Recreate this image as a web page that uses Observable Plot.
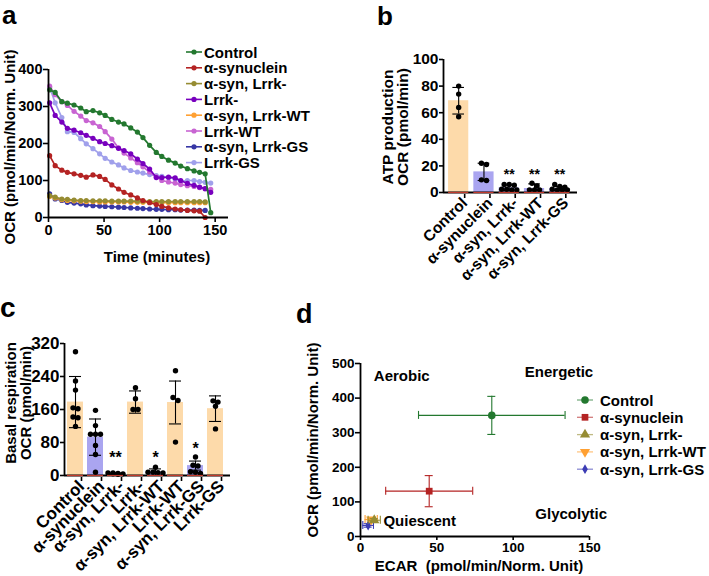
<!DOCTYPE html>
<html><head><meta charset="utf-8">
<script src="https://cdn.jsdelivr.net/npm/d3@7"></script>
<script src="https://cdn.jsdelivr.net/npm/@observablehq/plot@0.6"></script>
<style>
body{margin:0;background:#fff;}
#fig{position:relative;width:709px;height:576px;overflow:hidden;background:#fff;}
.abs{position:absolute;}
</style></head><body><div id="fig"></div>
<script>
// ---------- Panel a: OCR time course ----------
const timeMin = [1,6,12,17,23,29,34,40,46,51,57,63,68,74,80,85,91,97,102,108,114,119,125,131,136,141,146];
const seriesA = ["Control","α-synuclein","α-syn, Lrrk-","Lrrk-","α-syn, Lrrk-WT","Lrrk-WT","α-syn, Lrrk-GS","Lrrk-GS"];
const ocrControl   = [345,338,313,309,304,296,286,289,283,276,265,258,253,242,231,216,195,176,165,155,147,139,132,126,122,118,13];
const ocrAsyn      = [167,140,128,122,118,114,109,115,111,103,88,77,68,61,53,46,40,35,30,26,23,21,19,18,17,0,null];
const ocrAsynLrrkKO= [59,55,50,49,47,46,46,45,45,45,44,44,44,44,44,44,43,43,43,43,43,43,43,43,43,42,null];
const ocrLrrkKO    = [310,276,258,241,236,229,222,214,205,200,194,187,181,172,158,146,131,108,108,109,107,100,92,87,82,78,68];
const ocrAsynLrrkWT= [57,53,48,46,45,44,43,43,42,42,42,42,42,41,41,41,41,40,40,40,40,40,40,40,40,40,null];
const ocrLrrkWT    = [355,332,313,303,287,274,262,256,246,232,212,188,174,161,148,137,123,110,100,96,93,89,86,84,81,78,76];
const ocrAsynLrrkGS= [64,50,46,41,39,37,34,32,31,30,29,28,27,26,25,24,23,22,22,21,21,20,20,20,19,19,null];
const ocrLrrkGS    = [352,310,270,232,230,213,199,186,172,160,150,142,134,127,123,120,116,113,111,108,104,98,100,100,97,95,93];
const xTicksA = [0,50,100,150];
const yTicksA = [0,100,200,300,400];

// ---------- Panel b: ATP production ----------
const catsB = ["Control","α-synuclein","α-syn, Lrrk-","α-syn, Lrrk-WT","α-syn, Lrrk-GS"];
const atpMean = [69,15.5,3.5,3,3];
const atpSD   = [10,6.5,2,3.5,1.5];
const atpDots = [[80,74,64,57],[22,21,9.5,9],[6,5.5,6,2.5,2,2,2.5],[7,5,2,2,2],[4,4.5,6,2.5,2,2,2]];
const atpSig  = ["","","**","**","**"];
const atpSigY = [null,null,14.5,14.5,14.5];
const yTicksB = [0,20,40,60,80,100];

// ---------- Panel c: Basal respiration ----------
const catsC = ["Control","α-synuclein","α-syn, Lrrk-","Lrrk-","α-syn, Lrrk-WT","Lrrk-WT","α-syn, Lrrk-GS","Lrrk-GS"];
const basalMean = [178,93,4,178,8,177,24,162];
const basalSD   = [62,44,2,27,8,52,11,31];
const basalDots = [[300,229,207,164,162,142,140,119],[158,121,100,100,100,73,51,8],[6,4,6,3,5,4],[213,186,160,160],[20,8,7,8,6],[254,182,189,81],[45,25,23,9,8,5],[181,178,168,113]];
const basalSig  = ["","","**","","*","","*",""];
const basalSigY = [null,null,49,null,51,null,71,null];
const yTicksC = [0,80,160,240,320];

// ---------- Panel d: energy map ----------
const groupsD  = ["Control","α-synuclein","α-syn, Lrrk-","α-syn, Lrrk-WT","α-syn, Lrrk-GS"];
const ecarMean = [86,45,9,7,5];
const ecarErr  = [48,28.5,4,4,3.5];
const ocrMeanD = [350,131,47,49,32];
const ocrErrD  = [55,45,5,4,5];
const quadText = ["Aerobic","Energetic","Quiescent","Glycolytic"];
const quadX    = [27,130,15,138];
const quadY    = [463,476,44,64];
const xTicksD = [0,50,100,150];
const yTicksD = [0,100,200,300,400,500];

// ---------- styles ----------
const colorsA = ["#23782f","#b42323","#968c32","#7800be","#ffa032","#c864d2","#3737a5","#a0a0eb"];
const colorsD = ["#23782f","#b42323","#968c32","#ffa032","#3c3cb4"];
const peach = "#fddaaa", lav = "#aaa5f0";
const FONT = '"Liberation Sans", Arial, Helvetica, sans-serif';
const styleFor = size => ({fontFamily: FONT, fontSize: size + "px", fontWeight: "bold", color: "#000", background: "transparent", maxWidth: "none", overflow: "visible"});

const triDown = {draw(ctx, size){ const s3 = Math.sqrt(3); const y = -Math.sqrt(size/(s3*3)); ctx.moveTo(0,-y*2); ctx.lineTo(-s3*y, y); ctx.lineTo(s3*y, y); ctx.closePath(); }};
const symbolsD = ["circle","square","triangle",triDown,"diamond"];
const d3SymbolsD = [d3.symbolCircle, d3.symbolSquare, d3.symbolTriangle, triDown, d3.symbolDiamond];

const fig = document.getElementById("fig");
function place(node, left, top){ const div = document.createElement("div"); div.className = "abs"; div.style.left = left+"px"; div.style.top = top+"px"; div.appendChild(node); fig.appendChild(div); }

// simple deterministic swarm: clusters of close values spread horizontally
function swarm(values, center, thr, step){
  const sorted = values.map(v => v).sort((a,b) => b-a);
  const clusters = [];
  for (const v of sorted){ const c = clusters[clusters.length-1]; if (c && Math.abs(c[0]-v) < thr) c.push(v); else clusters.push([v]); }
  const out = [];
  for (const c of clusters){
    for (let s = 0; s < c.length; s += 4){
      const chunk = c.slice(s, s+4);
      chunk.forEach((v,j) => out.push({x: center + (j-(chunk.length-1)/2)*step, y: v}));
    }
  }
  return out;
}

// ---------- Panel a plot ----------
{
  const marks = [];
  for (let s = seriesA.length-1; s >= 0; s--){
    const vals = [ocrControl,ocrAsyn,ocrAsynLrrkKO,ocrLrrkKO,ocrAsynLrrkWT,ocrLrrkWT,ocrAsynLrrkGS,ocrLrrkGS][s];
    const rows = timeMin.map((t,k) => ({t, v: vals[k]})).filter(d => d.v != null);
    marks.push(Plot.line(rows, {x: "t", y: "v", stroke: colorsA[s], strokeWidth: 1.7}));
    marks.push(Plot.dot(rows, {x: "t", y: "v", fill: colorsA[s], r: 2.6}));
  }
  const p = Plot.plot({
    width: 240, height: 240, marginLeft: 48, marginRight: 12, marginTop: 29, marginBottom: 63,
    x: {domain: [0,162]}, y: {domain: [0,400]},
    style: styleFor(14.5),
    marks: [
      ...marks,
      Plot.ruleX([0], {strokeWidth: 1.8}),
      Plot.ruleY([0], {strokeWidth: 1.8}),
      Plot.axisX({ticks: xTicksA, tickSize: 5, tickPadding: 2, strokeWidth: 1.6, label: null}),
      Plot.axisY({ticks: yTicksA, tickSize: 5, tickPadding: 1, strokeWidth: 1.6, label: null})
    ]
  });
  place(p, 0, 40);
}

// ---------- bar panels ----------
function barPanel(cats, means, sds, dots, sig, sigY, yTicks, yDom, xDom, opts){
  const rows = cats.map((c,i) => ({i, c, mean: means[i], sd: sds[i], color: c.startsWith("α") ? lav : peach}));
  const pts = dots.flatMap((vals,i) => swarm(vals, i, opts.thr, opts.step));
  const sigRows = cats.map((c,i) => ({i, s: sig[i], y: sigY[i]})).filter(d => d.s);
  const cap = opts.cap;
  return Plot.plot({
    width: opts.width, height: opts.height, marginLeft: opts.ml, marginRight: opts.mr, marginTop: opts.mt, marginBottom: opts.mb,
    x: {domain: xDom}, y: {domain: yDom}, color: {type: "identity"},
    style: styleFor(opts.font),
    marks: [
      Plot.rectY(rows, {x1: d => d.i-0.4, x2: d => d.i+0.4, y1: 0, y2: "mean", fill: "color"}),
      Plot.ruleX(rows, {x: "i", y1: d => Math.max(0, d.mean-d.sd), y2: d => d.mean+d.sd, strokeWidth: 1.1}),
      Plot.ruleY(rows, {x1: d => d.i-cap, x2: d => d.i+cap, y: d => d.mean+d.sd, strokeWidth: 1.1}),
      Plot.ruleY(rows.filter(d => d.mean-d.sd > 0), {x1: d => d.i-cap, x2: d => d.i+cap, y: d => d.mean-d.sd, strokeWidth: 1.1}),
      Plot.dot(pts, {x: "x", y: "y", fill: "#000", r: 2.7}),
      Plot.ruleX([xDom[0]], {strokeWidth: 1.8}),
      Plot.ruleY([0], {strokeWidth: 1.8}),
      Plot.ruleY(rows, {x1: d => d.i-0.4, x2: d => d.i+0.4, y: 0, stroke: "#c0392b", strokeWidth: 1.2}),
      Plot.text(sigRows, {x: "i", y: "y", text: "s", dy: opts.sigDy, fontSize: opts.sigFont}),
      Plot.axisX({ticks: cats.map((c,i) => i), tickFormat: i => cats[i], tickRotate: -45, tickSize: 4, tickPadding: 2, dx: opts.ldx, dy: opts.ldy, strokeWidth: 1.6, label: null}),
      Plot.axisY({ticks: yTicks, tickSize: 4, tickPadding: 1, strokeWidth: 1.6, label: null})
    ]
  });
}
place(barPanel(catsB, atpMean, atpSD, atpDots, atpSig, atpSigY, yTicksB, [0,100], [-0.6,4.7],
  {width: 250, height: 260, ml: 103, mr: 13, mt: 19, mb: 108, thr: 3, step: 0.2, cap: 0.23, font: 15.5, sigFont: 14, sigDy: 1, ldx: 6, ldy: 2}), 340, 40);
place(barPanel(catsC, basalMean, basalSD, basalDots, basalSig, basalSigY, yTicksC, [0,320], [-0.55,7.75],
  {width: 240, height: 256, ml: 64, mr: 10, mt: 23, mb: 101, thr: 10, step: 0.25, cap: 0.3, font: 17, sigFont: 16, sigDy: 3, ldx: 6, ldy: 2}), 0, 320);

// ---------- Panel d plot ----------
{
  const rows = groupsD.map((g,k) => ({g, k, x: ecarMean[k], xe: ecarErr[k], y: ocrMeanD[k], ye: ocrErrD[k]}));
  const marks = [];
  for (let k = rows.length-1; k >= 0; k--){
    const r = [rows[k]], c = colorsD[k];
    marks.push(
      Plot.ruleY(r, {x1: d => d.x-d.xe, x2: d => d.x+d.xe, y: "y", stroke: c, strokeWidth: 1.1}),
      Plot.ruleX(r, {x: "x", y1: d => d.y-d.ye, y2: d => d.y+d.ye, stroke: c, strokeWidth: 1.1}),
      Plot.ruleX(r, {x: d => d.x-d.xe, y1: "y", y2: "y", insetTop: -4, insetBottom: -4, stroke: c, strokeWidth: 1.1}),
      Plot.ruleX(r, {x: d => d.x+d.xe, y1: "y", y2: "y", insetTop: -4, insetBottom: -4, stroke: c, strokeWidth: 1.1}),
      Plot.ruleY(r, {y: d => d.y-d.ye, x1: "x", x2: "x", insetLeft: -4, insetRight: -4, stroke: c, strokeWidth: 1.1}),
      Plot.ruleY(r, {y: d => d.y+d.ye, x1: "x", x2: "x", insetLeft: -4, insetRight: -4, stroke: c, strokeWidth: 1.1}),
      Plot.dot(r, {x: "x", y: "y", fill: c, symbol: symbolsD[k], r: k === 4 ? 3 : 3.8})
    );
  }
  const q = quadText.map((t,k) => ({t, x: quadX[k], y: quadY[k], a: t === "Quiescent" ? "start" : "middle"}));
  const p = Plot.plot({
    width: 300, height: 236, marginLeft: 60, marginRight: 11, marginTop: 23, marginBottom: 40,
    x: {domain: [0,150]}, y: {domain: [0,500]},
    style: styleFor(13.5),
    marks: [
      ...marks,
      Plot.text(q.filter(d => d.a === "middle"), {x: "x", y: "y", text: "t", fontSize: 15, textAnchor: "middle"}),
      Plot.text(q.filter(d => d.a === "start"), {x: "x", y: "y", text: "t", fontSize: 15, textAnchor: "start"}),
      Plot.ruleX([0], {strokeWidth: 1.8}),
      Plot.ruleY([0], {strokeWidth: 1.8}),
      Plot.axisX({ticks: xTicksD, tickSize: 4, tickPadding: 2, strokeWidth: 1.6, label: null}),
      Plot.axisY({ticks: yTicksD, tickSize: 5, tickPadding: 1, strokeWidth: 1.6, label: null})
    ]
  });
  place(p, 300, 340);
}

// ---------- overlay: panel letters, axis titles, legends ----------
{
  const ov = d3.create("svg").attr("width", 709).attr("height", 576)
    .style("position","absolute").style("left","0px").style("top","0px")
    .style("font-family", FONT).style("font-weight","bold").style("pointer-events","none");
  const txt = (s, x, y, size, anchor="start", base="alphabetic") =>
    ov.append("text").attr("x", x).attr("y", y).attr("font-size", size).attr("text-anchor", anchor).attr("dominant-baseline", base).text(s);
  const vtxt = (s, x, y, size) =>
    ov.append("text").attr("transform", `translate(${x},${y}) rotate(-90)`).attr("font-size", size).attr("text-anchor","middle").attr("dominant-baseline","central").text(s);

  txt("a", 2, 23.6, 26); txt("b", 377, 24.5, 26); txt("c", 0, 317, 28); txt("d", 296, 323, 27);

  vtxt("OCR (pmol/min/Norm. Unit)", 9, 147, 15);
  txt("Time (minutes)", 157, 262, 15, "middle");
  vtxt("ATP production", 387, 127, 15.5);
  vtxt("OCR (pmol/min)", 402, 127, 15.5);
  vtxt("Basal respiration", 10, 403, 15);
  vtxt("OCR (pmol/min)", 25, 403, 15);
  vtxt("OCR (pmol/min/Norm. Unit)", 312, 440, 15);
  txt("ECAR  (pmol/min/Norm. Unit)", 479, 571, 15, "middle").style("white-space","pre");

  seriesA.forEach((s,k) => {
    const y = 52 + k*15.8;
    ov.append("line").attr("x1",186).attr("x2",202).attr("y1",y).attr("y2",y).attr("stroke",colorsA[k]).attr("stroke-width",1.6);
    ov.append("circle").attr("cx",194).attr("cy",y).attr("r",2.6).attr("fill",colorsA[k]);
    txt(s, 204, y, 15, "start", "central");
  });
  groupsD.forEach((g,k) => {
    const y = 400 + k*17.3;
    ov.append("line").attr("x1",577).attr("x2",593).attr("y1",y).attr("y2",y).attr("stroke",colorsD[k]).attr("stroke-opacity",0.6).attr("stroke-width",1.3);
    ov.append("path").attr("transform",`translate(585,${y})`).attr("d", d3.symbol(d3SymbolsD[k], k === 4 ? 28 : 45)()).attr("fill",colorsD[k]);
    txt(g, 600, y, 15, "start", "central");
  });
  fig.appendChild(ov.node());
}
</script>
</body></html>
